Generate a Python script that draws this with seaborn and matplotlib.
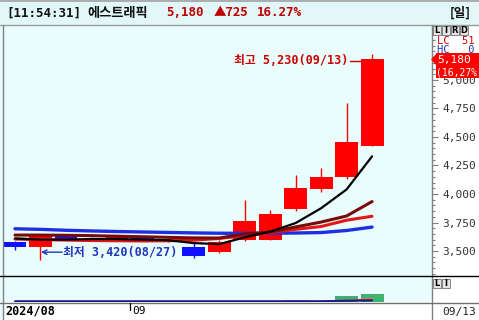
import numpy as np
import pandas as pd
import matplotlib
matplotlib.use('Agg')
import matplotlib.pyplot as plt
import seaborn as sns
from matplotlib.patches import Rectangle, Polygon
from matplotlib.lines import Line2D
from matplotlib.ticker import MultipleLocator, FixedLocator, FuncFormatter
import matplotlib.transforms as mtransforms

# ---------------- data ----------------
dates = ['08/26', '08/27', '08/28', '08/29', '08/30', '09/02', '09/03', '09/04',
         '09/05', '09/06', '09/09', '09/10', '09/11', '09/12', '09/13']
opens = [3579, 3535, 3630, 3605, 3600, 3610, 3580, 3535, 3491, 3596, 3596, 3868, 4044, 4149, 4421]
highs = [3590, 3650, 3640, 3620, 3630, 3625, 3615, 3570, 3600, 3947, 3860, 4167, 4228, 4798, 5230]
lows = [3508, 3420, 3595, 3590, 3590, 3585, 3575, 3440, 3485, 3590, 3596, 3851, 4018, 4132, 4420]
closes = [3535, 3640, 3605, 3600, 3620, 3590, 3600, 3456, 3579, 3763, 3825, 4053, 4150, 4455, 5180]

ma5 = [3610, 3600, 3600, 3605, 3605, 3600, 3595, 3570, 3560, 3620, 3670, 3745, 3875, 4040, 4330]
ma10 = [3640, 3640, 3638, 3635, 3630, 3625, 3620, 3615, 3614, 3649, 3667, 3711, 3754, 3807, 3934]
ma20 = [3605, 3600, 3596, 3592, 3590, 3588, 3590, 3595, 3610, 3635, 3660, 3690, 3715, 3770, 3805]
ma60 = [3695, 3690, 3682, 3676, 3671, 3667, 3663, 3659, 3656, 3655, 3656, 3658, 3662, 3680, 3710]

volume = [40, 60, 35, 30, 35, 30, 30, 45, 40, 60, 70, 290, 110, 1150, 1550]
vol_ma_a = [140, 140, 140, 140, 140, 140, 140, 140, 140, 140, 140, 145, 150, 190, 260]
vol_ma_b = [120, 120, 120, 120, 120, 120, 120, 120, 120, 120, 120, 125, 130, 330, 420]
vol_ma_c = [100, 100, 100, 100, 100, 100, 100, 100, 100, 100, 100, 110, 120, 300, 640]

price_ticks = [3500, 3750, 4000, 4250, 4500, 4750, 5000]
header_name = '에스트래픽'
header_time = '[11:54:31]'
cur_price = 5180
change = 725
change_pct = 16.27

# ---------------- style ----------------
sns.set_theme(style='white')
plt.rcParams['font.family'] = ['DejaVu Sans Mono', 'Noto Sans CJK KR']
MONO = ['DejaVu Sans Mono', 'Noto Sans CJK KR']
CJK = ['Noto Sans CJK KR', 'DejaVu Sans']

W, H = 479, 320
fig = plt.figure(figsize=(W / 100, H / 100), dpi=100)
BG = '#e9fdfd'
fig.patch.set_facecolor(BG)


def fx(px):
    return px / W


def fy(py):
    return 1 - py / H


def frect(x0, y0, x1, y1, fc, ec='none', lw=0, z=-10):
    r = Rectangle((fx(x0), fy(y1)), fx(x1) - fx(x0), fy(y0) - fy(y1),
                  transform=fig.transFigure, facecolor=fc, edgecolor=ec,
                  linewidth=lw, zorder=z)
    fig.add_artist(r)
    return r


def fline(x0, y0, x1, y1, color, lw=1.0, z=5):
    fig.add_artist(Line2D([fx(x0), fx(x1)], [fy(y0), fy(y1)], transform=fig.transFigure,
                          color=color, linewidth=lw, zorder=z))


def ftext(px, py, s, **kw):
    kw.setdefault('va', 'center')
    kw.setdefault('ha', 'left')
    return fig.text(fx(px), fy(py), s, **kw)


# background regions
frect(0, 0, W, 25, '#e2f8f8')          # header
frect(432, 25, W, H, '#ffffff')        # right axis panel
frect(3, 302, 432, H, '#ffffff')       # date row

# ---------------- price pane ----------------
ax = fig.add_axes([fx(3), fy(276), fx(432) - fx(3), fy(25) - fy(276)])
ax.set_facecolor('none')
n = len(dates)
idx = np.arange(n)
ax.set_xlim(-0.47, 16.35)
ax.set_ylim(3281, 5482)
for s in ax.spines.values():
    s.set_visible(False)

UP, DOWN = '#ff0000', '#1010ff'
for i in range(n):
    col = UP if closes[i] >= opens[i] else DOWN
    ax.vlines(i, lows[i], highs[i], color=col, linewidth=1.0, zorder=2)
    lo, hi = min(opens[i], closes[i]), max(opens[i], closes[i])
    ax.bar(i, max(hi - lo, 8), bottom=lo, width=0.9, color=col, linewidth=0, zorder=3)

ma_df = pd.DataFrame({'idx': idx, 'ma5': ma5, 'ma10': ma10, 'ma20': ma20, 'ma60': ma60})
sns.lineplot(data=ma_df, x='idx', y='ma60', ax=ax, color='#1f2fe0', linewidth=2.4, zorder=4)
sns.lineplot(data=ma_df, x='idx', y='ma20', ax=ax, color='#e01818', linewidth=2.2, zorder=4)
sns.lineplot(data=ma_df, x='idx', y='ma10', ax=ax, color='#7a0a0a', linewidth=2.2, zorder=4)
sns.lineplot(data=ma_df, x='idx', y='ma5', ax=ax, color='#000000', linewidth=1.6, zorder=5)
ax.set_xlabel('')
ax.set_ylabel('')
ax.set_xticks([])

ax.yaxis.tick_right()
ax.yaxis.set_major_locator(FixedLocator(price_ticks))
ax.yaxis.set_minor_locator(MultipleLocator(50))
ax.yaxis.set_major_formatter(FuncFormatter(lambda v, p: f'{int(v):,}'))
ax.tick_params(axis='y', which='major', direction='out', length=4.5, width=0.8,
               color='#808080', labelsize=8, labelcolor='#333333', pad=3)
ax.tick_params(axis='y', which='minor', direction='out', length=2.5, width=0.8, color='#808080')
for lab in ax.get_yticklabels():
    lab.set_fontfamily(MONO)

# high / low annotations
hi_i = int(np.argmax(highs))
lo_i = int(np.argmin(lows))
ax.plot([13.12, 13.55], [5170, 5170], color='#cc0000', linewidth=1.0, zorder=6)
ax.text(13.08, 5170, f'최고 {highs[hi_i]:,}({dates[hi_i]})', ha='right', va='center',
        color='#cc0000', fontsize=8.5, fontweight='bold', family=MONO, zorder=6)
ax.annotate('', xy=(lo_i + 0.02, 3490), xytext=(lo_i + 0.85, 3490),
            arrowprops=dict(arrowstyle='->', color='#2036b8', lw=1.0,
                            shrinkA=0, shrinkB=0, mutation_scale=8), zorder=6)
ax.text(lo_i + 0.88, 3490, f'최저 {lows[lo_i]:,}({dates[lo_i]})', ha='left', va='center',
        color='#2036b8', fontsize=8.5, fontweight='bold', family=MONO, zorder=6)

# ---------------- volume pane ----------------
axv = fig.add_axes([fx(3), fy(302), fx(432) - fx(3), fy(277) - fy(302)])
axv.set_facecolor('none')
axv.set_xlim(-0.47, 16.35)
axv.set_ylim(0, 4800)
for s in axv.spines.values():
    s.set_visible(False)
axv.set_xticks([])
axv.set_yticks([])
vcols = ['#3cb371' if i >= n - 2 else '#5b9be0' for i in range(n)]
axv.bar(idx, volume, width=0.9, color=vcols, linewidth=0, zorder=2)
vdf = pd.DataFrame({'idx': idx, 'a': vol_ma_a, 'b': vol_ma_b, 'c': vol_ma_c})
sns.lineplot(data=vdf, x='idx', y='c', ax=axv, color='#e08020', linewidth=1.2, zorder=3)
sns.lineplot(data=vdf, x='idx', y='b', ax=axv, color='#7a1fa0', linewidth=1.2, zorder=4)
sns.lineplot(data=vdf, x='idx', y='a', ax=axv, color='#101a80', linewidth=1.2, zorder=5)
axv.set_xlabel('')
axv.set_ylabel('')

# ---------------- frame lines ----------------
fline(0, 0.5, W, 0.5, '#a0a0a0', 1.2)
fline(0, 24.5, W, 24.5, '#9a9a9a', 1.0)
fline(2.5, 25, 2.5, H, '#808080', 1.0)
fline(432, 25, 432, H, '#808080', 1.0)
fline(0, 276, W, 276, '#000000', 1.0)
fline(0, 302.5, W, 302.5, '#707070', 1.0)

# date axis
tick_i = dates.index('09/02') - 0.5
trans = mtransforms.blended_transform_factory(axv.transData, fig.transFigure)
fig.add_artist(Line2D([tick_i, tick_i], [fy(302.5), fy(310)], transform=trans,
                      color='#000000', linewidth=0.9, zorder=6))
fig.text(tick_i + 0.08, fy(311), '09', transform=trans, ha='left', va='center',
         fontsize=8, family=MONO, color='#000000')
ftext(5, 311.5, '2024/08', fontsize=8.5, fontweight='bold', family=MONO, color='#000000')
ftext(442, 311.5, dates[-1], fontsize=8, family=MONO, color='#222222')

# ---------------- header ----------------
ftext(6, 13, header_time, fontsize=9, fontweight='bold', family=MONO, color='#111111')
ftext(87, 13, header_name, fontsize=9.5, fontweight='bold', family=CJK, color='#111111')
ftext(166, 13, f'{cur_price:,}', fontsize=9, fontweight='bold', family=MONO, color='#c00000')
ftext(214, 13, f'▲{change}', fontsize=9, fontweight='bold', family=CJK, color='#c00000')
ftext(257, 13, f'{change_pct:.2f}%', fontsize=9, fontweight='bold', family=MONO, color='#c00000')
ftext(450, 13, '[일]', fontsize=9, fontweight='bold', family=CJK, color='#111111')


# small mode boxes
def boxes(x0, y0, letters):
    for k, ch in enumerate(letters):
        bx = x0 + k * 9
        frect(bx, y0, bx + 8, y0 + 9, '#e4e4e4', ec='#707070', lw=0.6, z=6)
        ftext(bx + 4, y0 + 4.7, ch, ha='center', fontsize=6, fontweight='bold',
              family=['DejaVu Sans'], color='#000000', zorder=7)


boxes(433, 26, 'LIRD')
boxes(433, 279, 'LI')

ftext(437, 41, 'LC  51', fontsize=7.5, family=MONO, color='#cc0000')
ftext(437, 50, 'HC   0', fontsize=7.5, family=MONO, color='#2036b8')

# price flag
close_y = 251 - (cur_price - 3500) * 0.114
frect(436, close_y - 6, W, close_y + 19, '#ff0000', z=8)
fig.add_artist(Polygon([[fx(431), fy(close_y)], [fx(436.5), fy(close_y - 6)],
                        [fx(436.5), fy(close_y + 6)]], closed=True, transform=fig.transFigure,
                       facecolor='#ff0000', edgecolor='none', zorder=8))
ftext(437, close_y + 0.5, f'{cur_price:,}', fontsize=8, family=MONO, color='#ffffff', zorder=9)
ftext(436.5, close_y + 13, f'({change_pct:.2f}%'.replace('.', ','), fontsize=7,
      family=MONO, color='#ffffff', zorder=9)

fig.savefig('out.png', dpi=100, facecolor=fig.get_facecolor())
